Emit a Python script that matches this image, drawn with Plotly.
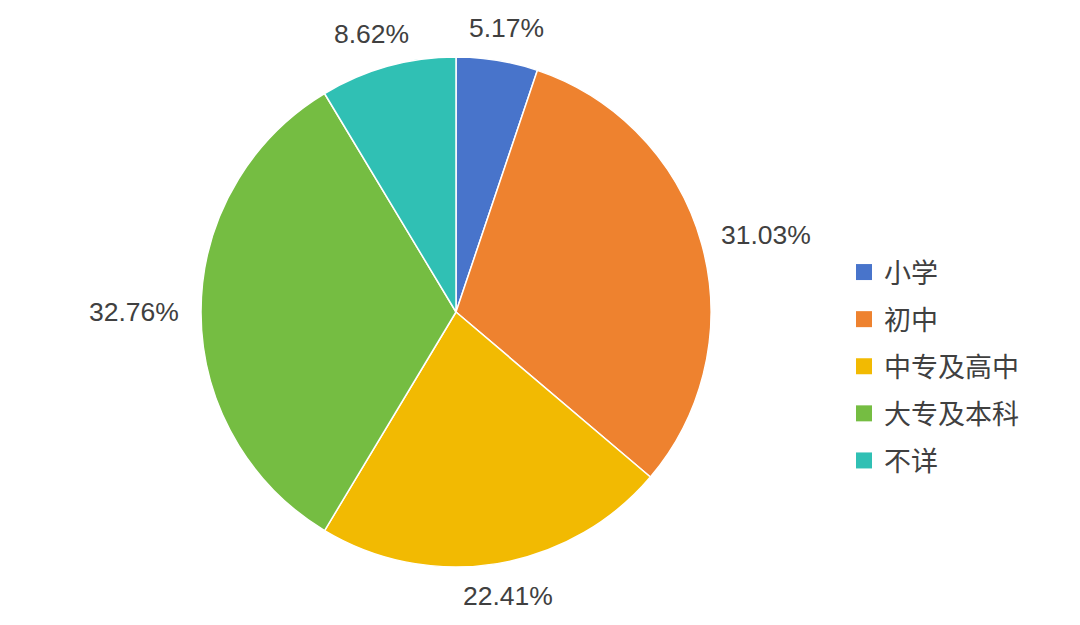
import math
import plotly.graph_objects as go

categories = ["小学", "初中", "中专及高中", "大专及本科", "不详"]
percentages = [5.17, 31.03, 22.41, 32.76, 8.62]
colors = ["#4874CB", "#EE822F", "#F2BA02", "#75BD42", "#30C0B4"]

W, H = 1080, 625
OFF = 8  # page body margin
cx, cy, r = 456 - OFF, 312 - OFF, 255
LABEL_SIZE = 26.5
GAP = 22
TEXT_COLOR = "#404040"

fig = go.Figure()
fig.add_trace(go.Pie(
    labels=categories,
    values=percentages,
    sort=False,
    direction="clockwise",
    rotation=0,
    marker=dict(colors=colors, line=dict(color="white", width=1.5)),
    textinfo="none",
    hoverinfo="label+percent",
    showlegend=False,
    domain=dict(x=[(cx - r) / W, (cx + r) / W], y=[(H - cy - r) / H, (H - cy + r) / H]),
))

# outside percentage labels, positioned from the slice mid-angles
char_w = {".": 0.278, "%": 0.889}
total = sum(percentages)
cum = 0.0
for v in percentages:
    theta = 2 * math.pi * (cum + v / 2) / total
    cum += v
    txt = f"{v:.2f}%"
    w = LABEL_SIZE * sum(char_w.get(ch, 0.556) for ch in txt)
    h = 22
    s, c = math.sin(theta), math.cos(theta)
    X = cx + (r + GAP) * s + (w / 2) * s
    Y = cy - (r + GAP) * c - (h / 2) * c
    fig.add_annotation(
        x=X / W, y=1 - Y / H, xref="paper", yref="paper",
        text=txt, showarrow=False, xanchor="center", yanchor="middle",
        font=dict(size=LABEL_SIZE, color=TEXT_COLOR, family="Liberation Sans, Arial"),
    )

# legend entries
for cat, col in zip(categories, colors):
    fig.add_trace(go.Scatter(
        x=[None], y=[None], mode="markers", name=cat, legendgroup=cat,
        marker=dict(symbol="square", size=16, color=col),
        showlegend=True,
    ))

fig.update_layout(
    width=W, height=H,
    margin=dict(l=0, r=0, t=0, b=0),
    paper_bgcolor="white", plot_bgcolor="white",
    font=dict(family="Liberation Sans, Arial, Noto Sans CJK SC", color=TEXT_COLOR, size=26),
    xaxis=dict(visible=False), yaxis=dict(visible=False),
    legend=dict(
        x=836 / W, y=1 - 240 / H, xanchor="left", yanchor="top",
        font=dict(size=27, color=TEXT_COLOR, family="Noto Sans CJK SC, Liberation Sans"),
        tracegroupgap=9, itemwidth=30, bgcolor="rgba(0,0,0,0)",
    ),
)

fig.write_html("out.html")
